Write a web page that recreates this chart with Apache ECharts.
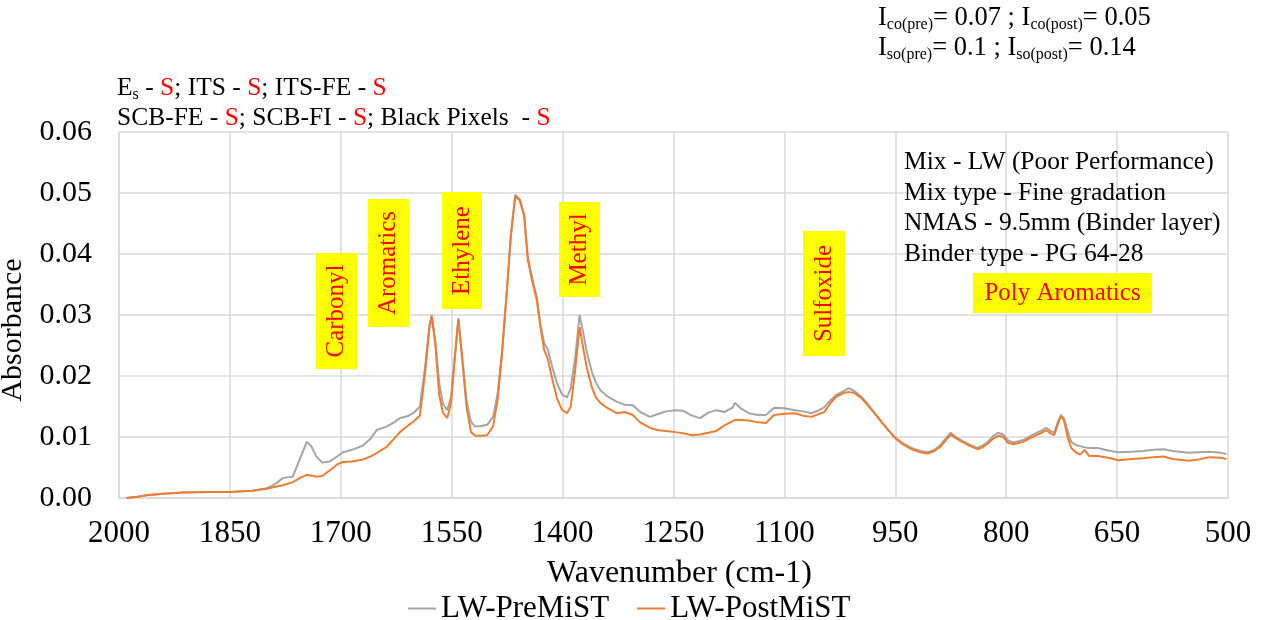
<!DOCTYPE html>
<html>
<head>
<meta charset="utf-8">
<script src="https://cdn.jsdelivr.net/npm/echarts@6/dist/echarts.min.js"></script>
<style>
  html, body { margin: 0; padding: 0; background: #fff; }
  #chart { width: 1268px; height: 620px; }
</style>
</head>
<body>
<div id="chart"></div>
<script>
// wavenumber (cm-1)
const wavenumber = [
  1990, 1975, 1960, 1940, 1913, 1880, 1850, 1820, 1800, 1790, 1778, 1765, 1755, 1746, 1740, 1733, 1725, 1715, 1705, 1697,
  1685, 1670, 1660, 1651, 1638, 1628, 1620, 1610, 1602, 1593, 1586, 1580, 1577, 1572, 1567, 1562, 1556, 1551, 1546, 1541,
  1536, 1530, 1524, 1518, 1510, 1502, 1494, 1488, 1482, 1476, 1470, 1464, 1458, 1452, 1447, 1441, 1435, 1430, 1425, 1420,
  1414, 1408, 1401, 1394, 1389, 1383, 1377, 1372, 1367, 1360, 1355, 1349, 1340, 1327, 1316, 1305, 1295, 1282, 1270, 1260,
  1248, 1237, 1225, 1214, 1203, 1192, 1181, 1170, 1167, 1158, 1148, 1136, 1125, 1114, 1100, 1086, 1075, 1063, 1055, 1046,
  1038, 1030, 1020, 1013, 1005, 996, 988, 979, 965, 951, 940, 928, 916, 906, 897, 889, 880, 875, 868, 861,
  850, 839, 832, 825, 818, 811, 804, 797, 790, 777, 765, 755, 746, 740, 735, 730, 726, 722, 717, 712,
  706, 700, 694, 688, 676, 662, 648, 630, 615, 600, 587, 575, 553, 540, 525, 510, 502
];
const preMiST = [
  0.0000, 0.0002, 0.0005, 0.0007, 0.0009, 0.0010, 0.0010, 0.0012, 0.0016, 0.0022, 0.0033, 0.0035, 0.0065, 0.0092, 0.0085, 0.0068, 0.0058, 0.0060, 0.0068, 0.0075,
  0.0079, 0.0086, 0.0097, 0.0112, 0.0117, 0.0124, 0.0131, 0.0134, 0.0139, 0.0150, 0.0215, 0.0285, 0.0300, 0.0255, 0.0190, 0.0155, 0.0144, 0.0165, 0.0230, 0.0295,
  0.0235, 0.0160, 0.0125, 0.0117, 0.0118, 0.0120, 0.0133, 0.0170, 0.0240, 0.0330, 0.0430, 0.0497, 0.0490, 0.0465, 0.0395, 0.0360, 0.0330, 0.0285, 0.0254, 0.0243,
  0.0215, 0.0190, 0.0170, 0.0165, 0.0180, 0.0230, 0.0300, 0.0270, 0.0238, 0.0205, 0.0189, 0.0177, 0.0167, 0.0158, 0.0153, 0.0152, 0.0141, 0.0133, 0.0138, 0.0142,
  0.0144, 0.0143, 0.0135, 0.0131, 0.0140, 0.0144, 0.0141, 0.0148, 0.0156, 0.0146, 0.0139, 0.0136, 0.0136, 0.0148, 0.0147, 0.0144, 0.0142, 0.0139, 0.0143, 0.0149,
  0.0160, 0.0169, 0.0175, 0.0180, 0.0175, 0.0166, 0.0155, 0.0141, 0.0120, 0.0100, 0.0090, 0.0082, 0.0077, 0.0075, 0.0079, 0.0087, 0.0100, 0.0107, 0.0100, 0.0095,
  0.0088, 0.0082, 0.0086, 0.0092, 0.0101, 0.0107, 0.0104, 0.0094, 0.0091, 0.0095, 0.0103, 0.0109, 0.0115, 0.0110, 0.0107, 0.0125, 0.0136, 0.0131, 0.0110, 0.0092,
  0.0087, 0.0085, 0.0083, 0.0082, 0.0082, 0.0078, 0.0075, 0.0076, 0.0077, 0.0079, 0.0080, 0.0077, 0.0074, 0.0075, 0.0076, 0.0074, 0.0072
];
const postMiST = [
  0.0000, 0.0002, 0.0005, 0.0007, 0.0009, 0.0010, 0.0010, 0.0012, 0.0015, 0.0018, 0.0021, 0.0026, 0.0033, 0.0038, 0.0037, 0.0035, 0.0036, 0.0045, 0.0055, 0.0059,
  0.0060, 0.0063, 0.0068, 0.0074, 0.0084, 0.0097, 0.0108, 0.0118, 0.0125, 0.0135, 0.0205, 0.0280, 0.0298, 0.0250, 0.0170, 0.0140, 0.0131, 0.0155, 0.0225, 0.0293,
  0.0230, 0.0150, 0.0108, 0.0102, 0.0102, 0.0103, 0.0118, 0.0160, 0.0235, 0.0330, 0.0430, 0.0495, 0.0488, 0.0462, 0.0390, 0.0355, 0.0325, 0.0280, 0.0243, 0.0228,
  0.0195, 0.0165, 0.0145, 0.0139, 0.0150, 0.0210, 0.0280, 0.0245, 0.0212, 0.0180, 0.0165, 0.0156, 0.0148, 0.0139, 0.0141, 0.0136, 0.0124, 0.0115, 0.0111, 0.0110,
  0.0108, 0.0106, 0.0103, 0.0104, 0.0107, 0.0110, 0.0119, 0.0126, 0.0128, 0.0128, 0.0127, 0.0124, 0.0123, 0.0136, 0.0138, 0.0139, 0.0135, 0.0133, 0.0137, 0.0141,
  0.0155, 0.0166, 0.0172, 0.0174, 0.0172, 0.0164, 0.0153, 0.0140, 0.0119, 0.0099, 0.0088, 0.0080, 0.0075, 0.0073, 0.0077, 0.0084, 0.0097, 0.0104, 0.0098, 0.0093,
  0.0086, 0.0080, 0.0083, 0.0089, 0.0097, 0.0102, 0.0100, 0.0090, 0.0088, 0.0092, 0.0100, 0.0105, 0.0111, 0.0106, 0.0103, 0.0122, 0.0134, 0.0128, 0.0100, 0.0082,
  0.0075, 0.0071, 0.0079, 0.0069, 0.0069, 0.0066, 0.0062, 0.0064, 0.0065, 0.0067, 0.0068, 0.0064, 0.0061, 0.0063, 0.0067, 0.0066, 0.0064
];

// peak labels (yellow boxes)
const peakLabels = ["Carbonyl", "Aromatics", "Ethylene", "Methyl", "Sulfoxide"];
const peakBoxes = [[316, 253, 41, 116], [368, 199, 41, 128], [442, 192, 40, 117], [559, 202, 41, 95], [803, 231, 42, 125]];

const FONT = "Liberation Serif, Times New Roman, serif";
const chart = echarts.init(document.getElementById("chart"));

// x axis runs 2000 -> 500, stored as offset from 2000 so ticks line up
const toX = (w) => 2000 - w;
const pairs = (vals) => wavenumber.map((w, i) => [toX(w), vals[i]]);

const graphics = [];
peakLabels.forEach((t, i) => {
  const [x, y, w, h] = peakBoxes[i];
  graphics.push({ type: "rect", shape: { x, y, width: w, height: h }, style: { fill: "#ffff00" }, z: 10 });
  graphics.push({
    type: "text", x: x + w / 2, y: y + h / 2, rotation: Math.PI / 2, z: 11,
    style: { text: t, fill: "#ff0000", font: `25px ${FONT}`, align: "center", verticalAlign: "middle" },
  });
});
graphics.push({ type: "rect", shape: { x: 973, y: 273, width: 179, height: 40 }, style: { fill: "#ffff00" }, z: 10 });
graphics.push({
  type: "text", x: 1062.5, y: 293, z: 11,
  style: { text: "Poly Aromatics", fill: "#ff0000", font: `25px ${FONT}`, align: "center", verticalAlign: "middle" },
});
graphics.push({
  type: "text", x: 904, y: 147, z: 11,
  style: {
    text: "Mix - LW (Poor Performance)\nMix type - Fine gradation\nNMAS - 9.5mm (Binder layer)\nBinder type - PG 64-28",
    fill: "#000", font: `25.5px ${FONT}`, lineHeight: 30.7,
  },
});
const rich = {
  r: { fill: "#ff0000", fontFamily: FONT, fontSize: 25.5 },
  sub: { fontFamily: FONT, fontSize: 16, verticalAlign: "bottom", lineHeight: 25 },
};
graphics.push({
  type: "text", x: 117, y: 103, z: 11,
  style: {
    text: "E{sub|s} - {r|S}; ITS - {r|S}; ITS-FE - {r|S}\nSCB-FE - {r|S}; SCB-FI - {r|S}; Black Pixels  - {r|S}",
    fill: "#000", font: `25.5px ${FONT}`, lineHeight: 30, verticalAlign: "middle", rich,
  },
});
graphics.push({
  type: "text", x: 878, y: 33, z: 11,
  style: {
    text: "I{sub|co(pre)}= 0.07 ; I{sub|co(post)}= 0.05\nI{sub|so(pre)}= 0.1 ; I{sub|so(post)}= 0.14",
    fill: "#000", font: `26.5px ${FONT}`, lineHeight: 30, verticalAlign: "middle", rich,
  },
});

chart.setOption({
  animation: false,
  textStyle: { fontFamily: FONT },
  grid: { left: 119, right: 40, top: 132, bottom: 122, outerBoundsMode: "none" },
  legend: {
    top: 588,
    left: 403,
    itemWidth: 28,
    itemHeight: 2,
    itemGap: 28,
    icon: "rect",
    textStyle: { fontSize: 31, color: "#000", fontFamily: FONT },
    data: ["LW-PreMiST", "LW-PostMiST"],
  },
  xAxis: {
    type: "value",
    min: 0,
    max: 1500,
    interval: 150,
    name: "Wavenumber (cm-1)",
    nameLocation: "middle",
    nameGap: 60,
    nameTextStyle: { fontSize: 32, color: "#000", fontFamily: FONT, padding: [0, 0, 0, 12] },
    axisLine: { lineStyle: { color: "#d9d9d9", width: 1.5 } },
    axisTick: { show: false },
    splitLine: { show: true, lineStyle: { color: "#d9d9d9", width: 1.5 } },
    axisLabel: { fontSize: 31, color: "#000", margin: 20, formatter: (v) => String(2000 - v) },
  },
  yAxis: {
    type: "value",
    min: 0,
    max: 0.06,
    interval: 0.01,
    name: "Absorbance",
    nameLocation: "middle",
    nameGap: 82,
    nameTextStyle: { fontSize: 30, color: "#000", fontFamily: FONT, padding: [0, 30, 0, 0] },
    axisLine: { show: true, lineStyle: { color: "#d9d9d9", width: 1.5 } },
    axisTick: { show: false },
    splitLine: { show: true, lineStyle: { color: "#d9d9d9", width: 1.5 } },
    axisLabel: { fontSize: 30, color: "#000", margin: 27, formatter: (v) => v.toFixed(2) },
  },
  series: [
    {
      name: "LW-PreMiST", type: "line", data: pairs(preMiST), showSymbol: false,
      lineStyle: { color: "#a5a5a5", width: 2 }, itemStyle: { color: "#a5a5a5" },
    },
    {
      name: "LW-PostMiST", type: "line", data: pairs(postMiST), showSymbol: false,
      lineStyle: { color: "#ed7d31", width: 2 }, itemStyle: { color: "#ed7d31" },
    },
  ],
  graphic: graphics,
});
</script>
</body>
</html>
